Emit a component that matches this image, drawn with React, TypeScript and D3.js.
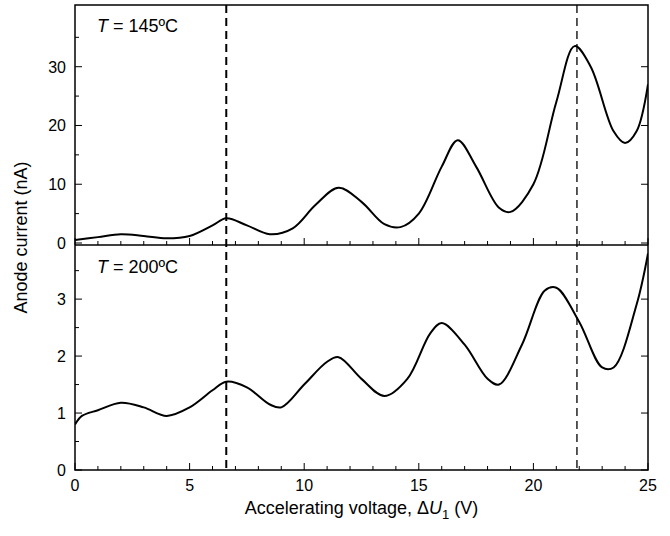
import * as d3 from 'd3'

const topX = [0, 1, 2, 3, 4, 5, 6, 6.6, 7.5, 8.5, 9.5, 10.5, 11.5, 12.5, 13.5, 14.2, 15, 16, 16.7, 17.5, 18.5, 19, 20, 21, 21.8, 22.5, 23.5, 24, 24.5, 25]
const topY = [0.5, 1.0, 1.5, 1.2, 0.8, 1.2, 3.0, 4.2, 3.0, 1.5, 2.5, 6.5, 9.4, 7.0, 3.2, 2.7, 5, 13, 17.5, 13, 6, 5.3, 10, 24, 33.5, 30, 19, 17, 19, 27]
const botX = [0, 0.3, 1, 2, 3, 4, 5, 6, 6.6, 7.5, 8.5, 9, 10, 11, 11.5, 12.5, 13.5, 14.5, 15.5, 16, 17, 18, 18.5, 19.5, 20.5, 21, 22, 23, 23.5, 24.5, 25]
const botY = [0.8, 0.95, 1.05, 1.18, 1.1, 0.95, 1.1, 1.4, 1.55, 1.45, 1.15, 1.1, 1.5, 1.9, 1.98, 1.6, 1.3, 1.6, 2.4, 2.58, 2.2, 1.6, 1.5, 2.2, 3.15, 3.2, 2.6, 1.8, 1.8, 2.9, 3.8]
const xTicks = [0, 5, 10, 15, 20, 25]
const topTicks = [0, 10, 20, 30]
const botTicks = [0, 1, 2, 3]
const dashedX = [6.6, 21.9]

const L = 75, R = 648, T0 = 5, MID = 245, B = 470
const font = 'Liberation Sans, Arial, sans-serif'

export default function App() {
  const x = d3.scaleLinear().domain([0, 25]).range([L, R])
  const yT = d3.scaleLinear().domain([0, 40.5]).range([243, T0])
  const yB = d3.scaleLinear().domain([0, 3.95]).range([B, MID])
  const line = (xs: number[], ys: number[], y: d3.ScaleLinear<number, number>) =>
    d3.line<number>().x((_, i) => x(xs[i])).y((d) => y(d)).curve(d3.curveCatmullRom)(ys) || ''
  const minorX = d3.range(0, 25.01, 1)
  return (
    <svg width={670} height={536} style={{ position: 'absolute', left: 0, top: 0, fontFamily: font }}>
      <rect x={0} y={0} width={670} height={536} fill="#fff" />
      <defs>
        <clipPath id="c"><rect x={L} y={T0} width={R - L} height={B - T0} /></clipPath>
      </defs>
      <g clipPath="url(#c)">
        <path d={line(topX, topY, yT)} fill="none" stroke="#000" strokeWidth={2} />
        <path d={line(botX, botY, yB)} fill="none" stroke="#000" strokeWidth={2} />
      </g>
      {dashedX.map((d, i) => (
        <line key={d} x1={x(d)} x2={x(d)} y1={T0} y2={B} stroke="#000" strokeWidth={i === 0 ? 2 : 1.3} strokeDasharray="8,5" />
      ))}
      <rect x={L} y={T0} width={R - L} height={B - T0} fill="none" stroke="#000" strokeWidth={1.5} />
      <line x1={L} x2={R} y1={MID} y2={MID} stroke="#000" strokeWidth={1.5} />
      {minorX.map((d) => (
        <g key={d}>
          <line x1={x(d)} x2={x(d)} y1={B} y2={B - (d % 5 === 0 ? 7 : 4)} stroke="#000" />
          <line x1={x(d)} x2={x(d)} y1={MID} y2={MID - (d % 5 === 0 ? 7 : 4)} stroke="#000" />
        </g>
      ))}
      {xTicks.map((d) => (
        <text key={d} x={x(d)} y={B + 21} textAnchor="middle" fontSize={16}>{d}</text>
      ))}
      {topTicks.map((d) => (
        <g key={d}>
          <line x1={L} x2={L + 7} y1={yT(d)} y2={yT(d)} stroke="#000" />
          <line x1={R} x2={R - 7} y1={yT(d)} y2={yT(d)} stroke="#000" />
          <text x={L - 9} y={yT(d) + 6} textAnchor="end" fontSize={16}>{d}</text>
        </g>
      ))}
      {d3.range(5, 40, 10).map((d) => (
        <line key={d} x1={L} x2={L + 4} y1={yT(d)} y2={yT(d)} stroke="#000" />
      ))}
      {botTicks.map((d) => (
        <g key={d}>
          <line x1={L} x2={L + 7} y1={yB(d)} y2={yB(d)} stroke="#000" />
          <line x1={R} x2={R - 7} y1={yB(d)} y2={yB(d)} stroke="#000" />
          <text x={L - 9} y={yB(d) + 6} textAnchor="end" fontSize={16}>{d}</text>
        </g>
      ))}
      {d3.range(0.5, 3.9, 1).map((d) => (
        <line key={d} x1={L} x2={L + 4} y1={yB(d)} y2={yB(d)} stroke="#000" />
      ))}
      <text x={97} y={32} fontSize={18}><tspan fontStyle="italic">T</tspan> = 145ºC</text>
      <text x={97} y={273} fontSize={18}><tspan fontStyle="italic">T</tspan> = 200ºC</text>
      <text transform={`translate(27,${(T0 + B) / 2}) rotate(-90)`} textAnchor="middle" fontSize={18}>Anode current (nA)</text>
      <text x={(L + R) / 2} y={B + 44} textAnchor="middle" fontSize={18}>
        Accelerating voltage, Δ<tspan fontStyle="italic">U</tspan><tspan fontSize={13} dy={5}>1</tspan><tspan dy={-5}> (V)</tspan>
      </text>
    </svg>
  )
}
